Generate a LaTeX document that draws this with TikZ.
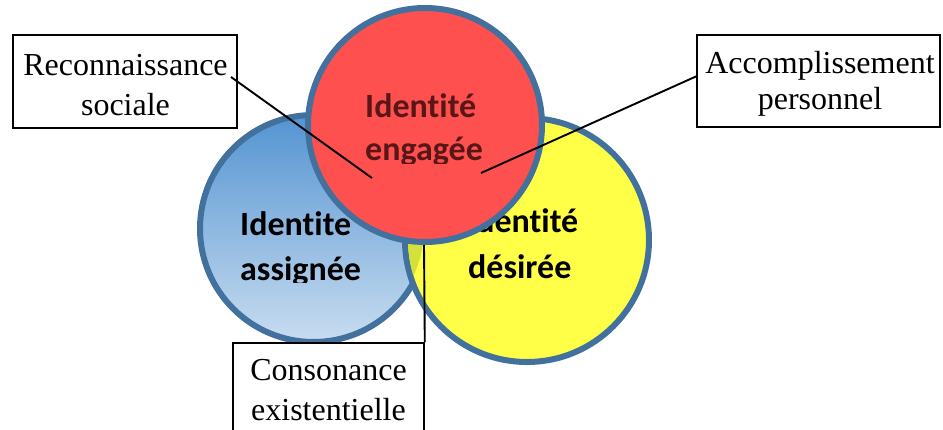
\documentclass[tikz,border=0pt]{standalone}
\usepackage{fontspec}
\setmainfont{Liberation Serif}
\newfontfamily\calfont[Ligatures=NoCommon]{Carlito}
\definecolor{cborder}{RGB}{66,113,158}
\definecolor{cred}{RGB}{255,80,80}
\definecolor{cyellow}{RGB}{255,255,72}
\definecolor{clens}{RGB}{214,224,58}
\definecolor{cbluetop}{RGB}{84,148,210}
\definecolor{cbluebot}{RGB}{200,220,240}
\definecolor{credtext}{RGB}{88,22,22}
\tikzset{
 circ/.style={circle, draw=cborder, line width=6pt, inner sep=0pt},
 lbl/.style={draw=black, line width=1.6pt, fill=white, inner sep=0pt, rectangle},
 lbltext/.style={font=\fontsize{32}{40}\selectfont, anchor=base, inner sep=0pt},
 ctext/.style={font=\calfont\bfseries\fontsize{34}{44}\selectfont, anchor=base west, inner sep=0pt},
 conn/.style={line width=1.9pt, black}
}
\begin{document}
\begin{tikzpicture}[x=1pt,y=-1pt]
\useasboundingbox (0,0) rectangle (943,429);
% blue circle
\node[circ, minimum size=227, top color=cbluetop, bottom color=cbluebot] (blue) at (313.5,228.5) {};
% yellow circle
\node[circ, minimum size=244, fill=cyellow] (yellow) at (527,240) {};
% lens
\begin{scope}
\clip (313.5,228.5) circle[radius=110.5];
\clip (527,240) circle[radius=119];
\fill[clens] (527,240) circle[radius=119];
\end{scope}
% texts in blue and yellow
\begin{scope}
\clip (200,180) rectangle (660,282);
\node[ctext] (b1) at (240,235) {Identite};
\node[ctext] (b2) at (240,280) {assignée};
\node[ctext] (y1) at (467,232) {Identité};
\node[ctext] (y2) at (468,278) {désirée};
\end{scope}
% consonance box and line
\node[lbl, minimum width=191, minimum height=100] (cs) at (328.5,393) {};
\coordinate (csTop) at (424,245);
\draw[conn] (cs.north east) -- (csTop);
% red circle
\node[circ, minimum size=234, fill=cred] (red) at (425,125) {};
\begin{scope}
\clip (330,60) rectangle (540,163);
\node[ctext, text=credtext] (r1) at (365,117) {Identité};
\node[ctext, text=credtext] (r2) at (365,160) {engagée};
\end{scope}
% label boxes
\node[lbl, minimum width=224, minimum height=93] (rs) at (125,81.5) {};
\node[lbl, minimum width=243, minimum height=92] (ap) at (818.5,81) {};
\coordinate (rsA) at (231,77);
\coordinate (rsB) at (372,178);
\coordinate (apA) at (697,76);
\coordinate (apB) at (481,173);
\draw[conn] (rsA) -- (rsB);
\draw[conn] (apA) -- (apB);
\node[lbltext] (rs1) at (125.5,75) {Reconnaissance};
\node[lbltext] (rs2) at (125.5,115) {sociale};
\begin{scope}
\clip (700,38) rectangle (938,115);
\node[lbltext] (ap1) at (820,73) {Accomplissement};
\node[lbltext] (ap2) at (820,109) {personnel};
\end{scope}
\node[lbltext] (cs1) at (328.5,380) {Consonance};
\node[lbltext] (cs2) at (328.5,420) {existentielle};
\end{tikzpicture}
\end{document}
